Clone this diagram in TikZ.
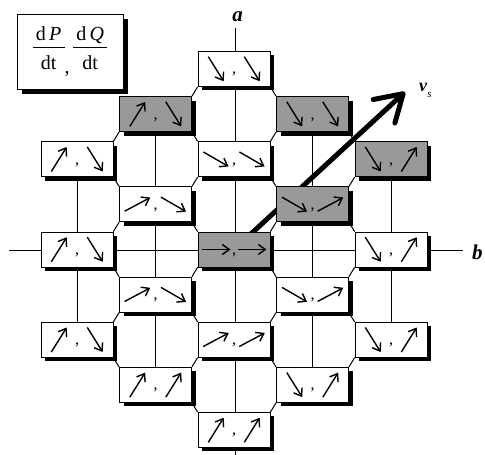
\documentclass[tikz,border=0pt]{standalone}
\usepackage{fontspec}
\setmainfont{Liberation Serif}
\usepackage{tikz}
\usetikzlibrary{arrows.meta,shadows,backgrounds,calc}
\definecolor{cellgray}{RGB}{153,153,153}

\tikzset{
  cell/.style={draw=black,line width=0.8pt,fill=white,minimum width=72pt,minimum height=35pt,
               inner sep=0pt,text height=10pt,text depth=0pt,font=\fontsize{16}{16}\selectfont,
               drop shadow={shadow xshift=4pt,shadow yshift=-4pt,fill=black,opacity=1}},
  rate box/.style={draw=black,line width=0.8pt,fill=white,minimum width=106pt,minimum height=75pt,
               inner sep=0pt,font=\fontsize{20}{20}\selectfont,
               drop shadow={shadow xshift=5pt,shadow yshift=-5pt,fill=black,opacity=1}},
  tick/.style={line width=1.4pt,-{Straight Barb[length=7pt,width=10pt]}},
  grid line/.style={line width=1pt},
  axis line/.style={line width=1.2pt},
  axis label/.style={inner sep=0pt,font=\fontsize{21}{21}\selectfont\bfseries\itshape},
}

\begin{document}
\begin{tikzpicture}[x=1pt,y=1pt]
  \useasboundingbox (0,0) rectangle (485,455);

  % the rate box
  \node[rate box] (rates) at (70,403.5) {%
    \begin{tabular}[b]{@{\,}c@{\,}}d\,\textit{P}\\\hline\rule{0pt}{22pt}dt\end{tabular}%
    \raisebox{-4pt}{,}\,%
    \begin{tabular}[b]{@{\,}c@{\,}}d\,\textit{Q}\\\hline\rule{0pt}{22pt}dt\end{tabular}};

  % cells: row/column/fill/left arrow/right arrow
  \foreach \r/\i/\col/\u/\v in {0/2/white/-58/-58,
      1/1/cellgray/58/-58, 1/3/cellgray/-58/-58,
      2/0/white/58/-58, 2/2/white/-30/-30, 2/4/cellgray/-58/58,
      3/1/white/28/-30, 3/3/cellgray/-30/28,
      4/0/white/58/-58, 4/2/cellgray/0/0, 4/4/white/-58/58,
      5/1/white/28/-30, 5/3/white/-30/28,
      6/0/white/58/-58, 6/2/white/28/28, 6/4/white/-58/58,
      7/1/white/58/58, 7/3/white/-58/58,
      8/2/white/58/58} {
    \node[cell,fill=\col] (box-\r-\i) at ({77+78.5*\i},{386-45.125*\r}) {,};
    \draw[tick] ($(box-\r-\i)+(-18,0)+({\u+180}:14.5)$) -- ++(\u:29);
    \draw[tick] ($(box-\r-\i)+(18,0)+({\v+180}:14.5)$) -- ++(\v:29);
  }

  % axes and labels
  \coordinate (atop) at (235.5,427);
  \coordinate (abot) at (235.5,0);
  \coordinate (bleft) at (9,204.5);
  \coordinate (bright) at (463,204.5);
  \coordinate (vtip) at (405,363);
  \node[axis label,anchor=base] (alabel) at (237.5,433) {a};
  \node[axis label,anchor=base west] (blabel) at (472,195) {b};
  \node[inner sep=0pt,anchor=base west,font=\fontsize{18}{18}\selectfont] (vlabel) at (419,363)
    {\textbf{\textit{v}}\raisebox{-6pt}{\fontsize{11}{11}\selectfont\textit{s}}};

  \begin{scope}[on background layer]
    \draw[axis line] (atop) -- (abot);
    \draw[axis line] (bleft) -- (bright);
    \draw[grid line] (box-2-0.center) -- (box-6-0.center);
    \draw[grid line] (box-1-1.center) -- (box-7-1.center);
    \draw[grid line] (box-1-3.center) -- (box-7-3.center);
    \draw[grid line] (box-2-4.center) -- (box-6-4.center);
    % chamfers between neighbouring cells
    \foreach \p/\q in {0-2/1-3, 1-1/2-2, 1-3/2-4, 2-0/3-1, 2-2/3-3, 3-1/4-2, 3-3/4-4,
        4-0/5-1, 4-2/5-3, 5-1/6-2, 5-3/6-4, 6-0/7-1, 6-2/7-3, 7-1/8-2}
      \draw[grid line] (box-\p.south east) -- (box-\q.north west);
    \foreach \p/\q in {0-2/1-1, 1-1/2-0, 1-3/2-2, 2-2/3-1, 2-4/3-3, 3-1/4-0, 3-3/4-2,
        4-2/5-1, 4-4/5-3, 5-1/6-0, 5-3/6-2, 6-2/7-1, 6-4/7-3, 7-3/8-2}
      \draw[grid line] (box-\p.south west) -- (box-\q.north east);
    % stator voltage
    \draw[line width=5pt,line cap=round,line join=round,
          -{Straight Barb[length=26pt,width=32pt,line cap=round,line join=round]}]
      (box-4-2.center) -- (vtip);
  \end{scope}
\end{tikzpicture}
\end{document}
